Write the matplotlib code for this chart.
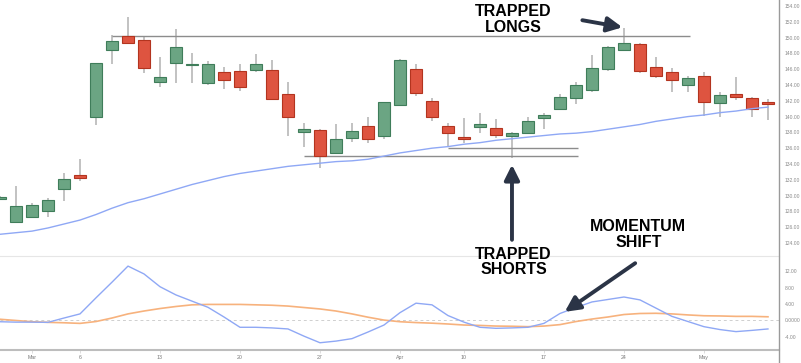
import numpy as np
import matplotlib
matplotlib.use('Agg')
import matplotlib.pyplot as plt
from matplotlib.lines import Line2D

plt.rcParams['font.family'] = ['Liberation Sans', 'DejaVu Sans']

# trading days shown (Good Friday Apr 7 missing)
dates = ['2023-02-27', '2023-02-28', '2023-03-01', '2023-03-02', '2023-03-03',
         '2023-03-06', '2023-03-07', '2023-03-08', '2023-03-09', '2023-03-10',
         '2023-03-13', '2023-03-14', '2023-03-15', '2023-03-16', '2023-03-17',
         '2023-03-20', '2023-03-21', '2023-03-22', '2023-03-23', '2023-03-24',
         '2023-03-27', '2023-03-28', '2023-03-29', '2023-03-30', '2023-03-31',
         '2023-04-03', '2023-04-04', '2023-04-05', '2023-04-06', '2023-04-10',
         '2023-04-11', '2023-04-12', '2023-04-13', '2023-04-14', '2023-04-17',
         '2023-04-18', '2023-04-19', '2023-04-20', '2023-04-21', '2023-04-24',
         '2023-04-25', '2023-04-26', '2023-04-27', '2023-04-28', '2023-05-01',
         '2023-05-02', '2023-05-03', '2023-05-04', '2023-05-05']

opens = [129.6, 126.6, 127.3, 128.05, 130.8, 132.6, 140.0, 148.4, 150.2, 149.7,
         144.4, 146.8, 146.5, 144.2, 145.7, 145.8, 145.9, 145.9, 142.9, 138.0,
         138.3, 135.4, 137.3, 138.8, 137.5, 141.5, 146.0, 142.0, 138.8, 137.4,
         138.7, 138.5, 137.6, 137.96, 139.8, 141.0, 142.3, 143.4, 146.0, 148.4,
         149.15, 146.3, 145.6, 144.0, 145.1, 141.7, 142.8, 142.4, 141.8]
highs = [130.0, 131.2, 129.1, 129.7, 132.9, 134.6, 146.8, 150.3, 152.6, 150.2,
         147.5, 151.05, 148.1, 147.1, 146.3, 146.6, 147.9, 147.2, 144.4, 139.2,
         138.4, 139.1, 139.2, 139.9, 141.9, 147.3, 146.7, 142.3, 139.2, 139.8,
         140.4, 139.7, 138.1, 140.0, 140.4, 142.8, 144.4, 147.8, 148.9, 151.2,
         149.35, 147.5, 146.1, 145.1, 145.7, 143.1, 145.0, 142.5, 142.2]
lows = [129.4, 126.5, 127.1, 127.3, 129.3, 131.9, 138.9, 146.7, 149.3, 145.55,
        143.8, 144.2, 144.2, 144.0, 143.5, 143.2, 145.6, 142.1, 137.5, 136.2,
        133.5, 135.3, 136.8, 136.7, 137.1, 141.3, 142.6, 139.5, 136.1, 136.6,
        137.9, 137.25, 134.7, 137.9, 138.4, 140.8, 141.6, 143.15, 145.8, 148.4,
        145.5, 144.9, 143.1, 143.15, 140.1, 139.9, 142.1, 140.0, 139.6]
closes = [129.8, 128.7, 128.8, 129.5, 132.1, 132.2, 146.75, 149.6, 149.3, 146.2,
          145.0, 148.85, 146.65, 146.7, 144.6, 143.7, 146.6, 142.2, 139.9, 138.4,
          135.05, 137.2, 138.2, 137.1, 141.9, 147.2, 142.95, 139.9, 137.96, 137.1,
          139.1, 137.7, 137.9, 139.4, 140.2, 142.5, 144.0, 146.2, 148.85, 149.35,
          145.8, 145.1, 144.6, 144.9, 141.8, 142.7, 142.5, 140.9, 141.55]

moving_avg = [125.1, 125.3, 125.5, 125.9, 126.4, 126.9, 127.6, 128.4, 129.1, 129.6,
              130.2, 130.8, 131.4, 131.9, 132.4, 132.8, 133.1, 133.4, 133.7, 133.9,
              134.1, 134.3, 134.4, 134.6, 135.0, 135.4, 135.7, 136.0, 136.2, 136.5,
              136.7, 137.0, 137.2, 137.4, 137.6, 137.8, 137.9, 138.1, 138.4, 138.7,
              139.0, 139.4, 139.7, 140.0, 140.2, 140.5, 140.7, 141.0, 141.2]

osc_fast = [-0.3, -0.4, -0.4, -0.45, 0.6, 1.6, 5.5, 9.3, 13.2, 11.3,
            8.2, 6.2, 4.7, 3.2, 0.85, -1.65, -1.65, -1.8, -2.05, -3.8,
            -5.4, -5.0, -4.4, -2.8, -1.1, 1.9, 4.2, 3.8, 1.2, -0.4,
            -1.65, -1.9, -1.8, -1.65, -0.7, 1.7, 3.15, 4.5, 5.1, 5.7,
            5.0, 3.0, 1.0, -0.25, -1.5, -2.2, -2.7, -2.4, -2.05]
osc_slow = [0.3, 0.0, -0.3, -0.45, -0.55, -0.7, -0.25, 0.6, 1.6, 2.3,
            2.9, 3.4, 3.8, 3.9, 3.9, 3.9, 3.8, 3.7, 3.5, 3.15,
            2.8, 2.3, 1.6, 0.8, 0.1, -0.3, -0.5, -0.65, -0.85, -1.1,
            -1.2, -1.35, -1.4, -1.5, -1.35, -1.0, -0.25, 0.35, 0.85, 1.45,
            1.7, 1.75, 1.6, 1.35, 1.15, 1.1, 1.0, 1.0, 0.9]

# levels drawn on the chart: (price, first day, last day)
resistance = (150.25, '2023-03-08', '2023-04-28')
support_low = (135.05, '2023-03-24', '2023-04-19')
support_high = (136.06, '2023-04-06', '2023-04-19')

tick_days = ['2023-03-01', '2023-03-06', '2023-03-13', '2023-03-20', '2023-03-27',
             '2023-04-03', '2023-04-10', '2023-04-17', '2023-04-24', '2023-05-01']
tick_text = ['Mar', '6', '13', '20', '27', 'Apr', '10', '17', '24', 'May']

price_ticks = list(range(124, 156, 2))
osc_ticks = [12, 8, 4, 0, -4]
osc_tick_text = ['12.00', '8.00', '4.00', '0.0000', '-4.00']

x = np.arange(len(dates))
pos = {d: i for i, d in enumerate(dates)}
o = np.array(opens); h = np.array(highs); l = np.array(lows); c = np.array(closes)
up = c >= o

fig = plt.figure(figsize=(8.01, 3.63), dpi=100)
W, H = 801, 363
ax1 = fig.add_axes([0, 107 / H, 779 / W, 256 / H])
ax2 = fig.add_axes([0, 13 / H, 779 / W, 94 / H], sharex=ax1)
ax1.set_zorder(3)
ax1.patch.set_alpha(0)

green, green_edge = '#6ba583', '#3f7d5a'
red, red_edge = '#de5440', '#b3341f'

ax1.vlines(x, l, h, color='#bdbdbd', lw=1.3, zorder=1)
bottoms = np.minimum(o, c)
heights = np.maximum(np.abs(c - o), 0.12)
ax1.bar(x[up], heights[up], bottom=bottoms[up], width=0.78,
        color=green, edgecolor=green_edge, lw=0.8, zorder=2)
ax1.bar(x[~up], heights[~up], bottom=bottoms[~up], width=0.78,
        color=red, edgecolor=red_edge, lw=0.8, zorder=2)
ax1.plot(x, moving_avg, color='#8fa8f5', lw=1.0, zorder=3)

for lvl, d0, d1 in [resistance, support_low, support_high]:
    ax1.hlines(lvl, pos[d0], pos[d1] + 0.1, color='#8c8c8c', lw=1.0, zorder=1)

ax1.set_xlim(0, 48.69)
ax1.set_ylim(122.35, 154.76)
ax1.yaxis.tick_right()
ax1.set_yticks(price_ticks)
ax1.set_yticklabels(['%.2f' % v for v in price_ticks])
ax1.tick_params(axis='y', length=0, pad=4, labelsize=3.6, labelcolor='#8a8a8a')
ax1.tick_params(axis='x', length=0, labelbottom=False)
for s in ax1.spines.values():
    s.set_visible(False)

# oscillator panel
ax2.axhline(0, color='#cfcfcf', lw=0.7, ls=(0, (3, 3)), zorder=1)
ax2.plot(x, osc_slow, color='#f7b27d', lw=1.2, zorder=2)
ax2.plot(x, osc_fast, color='#8fa8f5', lw=1.0, zorder=3)
ax2.set_ylim(-7.16, 15.65)
ax2.yaxis.tick_right()
ax2.set_yticks(osc_ticks)
ax2.set_yticklabels(osc_tick_text)
ax2.tick_params(axis='y', length=0, pad=4, labelsize=3.6, labelcolor='#8a8a8a')
ax2.set_xticks([pos[d] for d in tick_days])
ax2.set_xticklabels(tick_text)
ax2.tick_params(axis='x', length=2, width=0.5, color='#d0d0d0', pad=1.5,
                labelsize=3.8, labelcolor='#777777')
for k in ['left', 'right']:
    ax2.spines[k].set_visible(False)
ax2.spines['top'].set_color('#e6e6e6')
ax2.spines['top'].set_linewidth(0.8)
ax2.spines['bottom'].set_color('#bdbdbd')
ax2.spines['bottom'].set_linewidth(1.5)

fig.add_artist(Line2D([779 / W, 779 / W], [0, 1], transform=fig.transFigure,
                      color='#9a9a9a', lw=1.0))

# annotations
arrow_col = '#2b3446'
ap = dict(arrowstyle='-|>,head_width=0.45,head_length=0.9', lw=2.8,
          color=arrow_col, mutation_scale=10, shrinkA=0, shrinkB=0)
txt = dict(fontsize=11.5, fontweight='bold', color='black', ha='center',
           va='center', linespacing=1.05)

ax1.text(32.1, 152.3, 'TRAPPED\nLONGS', **txt)
ax1.annotate('', xy=(pos['2023-04-24'] - 0.1, 151.3), xytext=(36.4, 152.2),
             arrowprops=ap)

ax1.text(32.1, 121.6, 'TRAPPED\nSHORTS', clip_on=False, **txt)
ax1.annotate('', xy=(pos['2023-04-13'], 133.9), xytext=(pos['2023-04-13'], 124.4),
             arrowprops=ap)

ax1.text(39.9, 125.1, 'MOMENTUM\nSHIFT', **txt)
ax2.annotate('', xy=(35.3, 2.1), xytext=(39.7, 13.9), arrowprops=ap)

fig.savefig('out.png', dpi=100)
